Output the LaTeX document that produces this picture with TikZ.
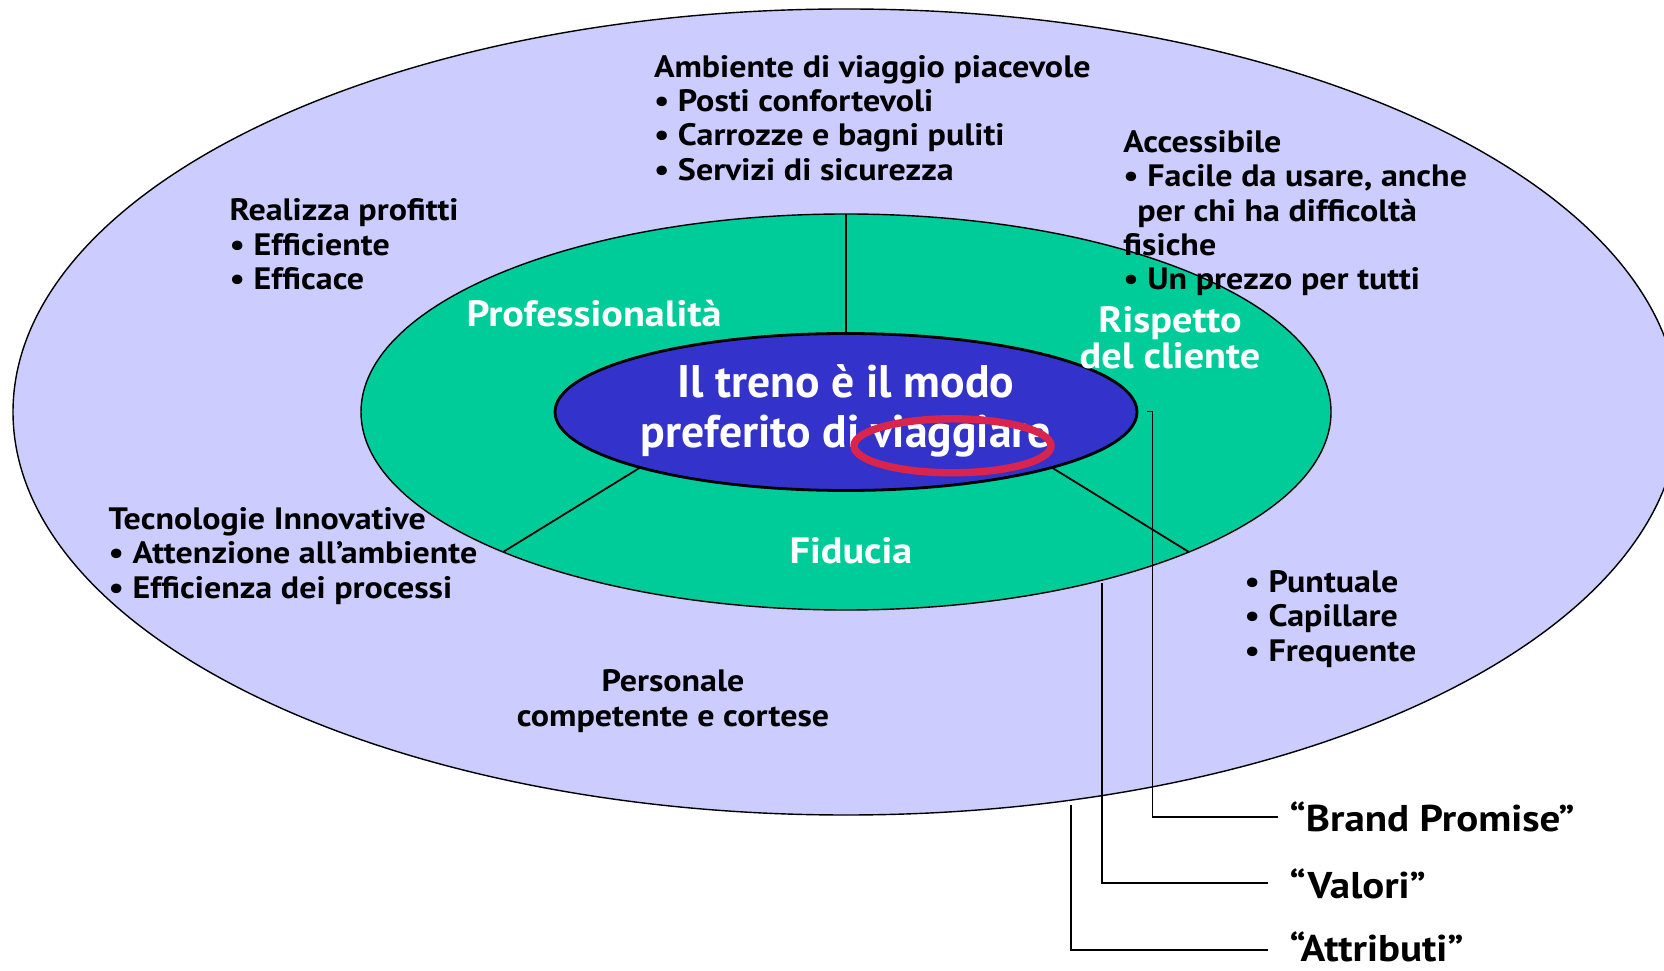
\documentclass[tikz,border=0pt]{standalone}
\usepackage{fontspec}
\setmainfont{PT Sans}[FakeStretch = 1.1]
\newfontfamily\corefont{PT Sans}
\usetikzlibrary{calc}
\definecolor{mylavender}{RGB}{204,204,255}
\definecolor{mygreen}{RGB}{0,204,153}
\definecolor{myblue}{RGB}{51,51,204}
\definecolor{myred}{RGB}{218,36,76}
\tikzset{>=latex}
\tikzset{
  blk/.style = {anchor = base west, align = left, inner sep = 0pt, font = \fontsize{8.8}{9.8}\selectfont\bfseries},
  wht/.style = {anchor = base, align = center, inner sep = 0pt, text = white, font = \fontsize{10.4}{10.4}\selectfont\bfseries},
  tag/.style = {anchor = base west, inner sep = 0pt, font = \fontsize{10.6}{12}\selectfont\bfseries},
  lead/.style = {line width = 0.5pt},
}
\begin{document}
\begin{tikzpicture}
\useasboundingbox (0,0) rectangle (16.64,9.70);
\clip (0,0) rectangle (16.64,9.70);
\coordinate (c) at (8.46,5.58);

% the three rings
\filldraw[fill = mylavender, line width = 0.4pt] (c) ellipse [x radius = 8.33, y radius = 4.03];
\filldraw[fill = mygreen, line width = 0.4pt] (c) ellipse [x radius = 4.85, y radius = 1.98];
\foreach \a in {90, 225, 315} {
  \coordinate (in\a) at ($(c)+({2.91*cos(\a)},{0.785*sin(\a)})$);
  \coordinate (out\a) at ($(c)+({4.85*cos(\a)},{1.98*sin(\a)})$);
  \draw[line width = 0.5pt] (in\a) -- (out\a);
}
\filldraw[fill = myblue, line width = 0.8pt] (c) ellipse [x radius = 2.91, y radius = 0.785];

% core (base = last line)
\node[wht, font = \corefont\fontsize{13}{14.5}\selectfont\bfseries] (promise) at (8.46,5.22) {Il treno è il modo\\preferito di viaggiare};
\draw[myred, line width = 2.1pt] (9.525,5.242) ellipse [x radius = 0.985, y radius = 0.27];

% values
\node[wht] (prof) at (5.94,6.433) {Professionalità};
\node[wht] (rispetto) at (11.70,6.01) {Rispetto\\del cliente};
\node[wht] (fiducia) at (8.51,4.065) {Fiducia};

% attributes
\node[blk] (ambiente) at (6.533,7.896) {Ambiente di viaggio piacevole\\• Posti confortevoli\\• Carrozze e bagni puliti\\• Servizi di sicurezza};
\node[blk] (profitti) at (2.29,6.802) {Realizza profitti\\• Efficiente\\• Efficace};
\node[blk] (accessibile) at (11.227,6.800) {Accessibile\\• Facile da usare, anche\\\hspace*{0.14cm}per chi ha difficoltà\\fisiche\\• Un prezzo per tutti};
\node[blk] (tecnologie) at (1.08,3.72) {Tecnologie Innovative\\• Attenzione all’ambiente\\• Efficienza dei processi};
\node[blk] (puntuale) at (12.44,3.089) {• Puntuale\\• Capillare\\• Frequente};
\node[blk, anchor = base, align = center] (personale) at (6.73,2.44) {Personale\\competente e cortese};

% legend
\node[tag] (brand) at (12.89,1.383) {“Brand Promise”};
\node[tag] (valori) at (12.89,0.717) {“Valori”};
\node[tag] (attributi) at (12.89,0.083) {“Attributi”};
\coordinate (bpTip) at (11.47,5.585);
\coordinate (bpEnd) at (12.78,1.533);
\coordinate (vaTip) at (11.017,3.87);
\coordinate (vaEnd) at (12.68,0.87);
\coordinate (atTip) at (10.708,1.655);
\coordinate (atEnd) at (12.68,0.20);
\draw[lead] (bpTip) -- ++(0.055,0) |- (bpEnd);
\draw[lead] (vaTip) |- (vaEnd);
\draw[lead] (atTip) |- (atEnd);
\end{tikzpicture}
\end{document}
